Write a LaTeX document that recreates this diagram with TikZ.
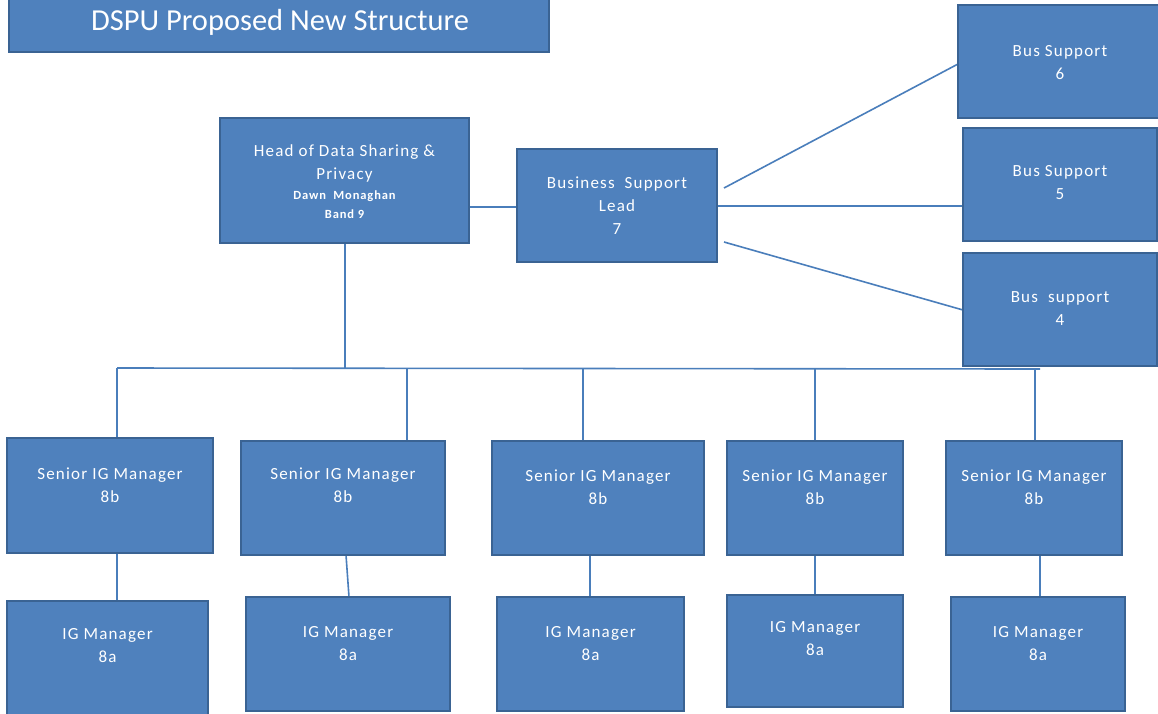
\documentclass[tikz,border=0pt]{standalone}
\usepackage{fontspec}
\setmainfont{Carlito}
\newfontfamily\boxfont[LetterSpace=7]{Carlito}
\definecolor{boxfill}{HTML}{4F81BD}
\definecolor{boxedge}{HTML}{3A6393}
\definecolor{wire}{HTML}{4A7EBB}
\tikzset{
  orgbox/.style={draw=boxedge, fill=boxfill, line width=1.4pt},
  boxtext/.style={text=white, inner sep=0pt, align=center, anchor=north,
    font=\boxfont\fontsize{17}{23}\selectfont},
  wireline/.style={draw=wire, line width=1.6pt},
}
% \orgunit{name}{left}{top}{right}{bottom}{first-line offset}{text}
\newcommand\orgunit[7]{%
  \path[orgbox] (#2,#3) rectangle (#4,#5);
  \coordinate (#1-nw) at (#2,#3);
  \coordinate (#1-se) at (#4,#5);
  \coordinate (#1) at ({(#2+#4)/2},{(#3+#5)/2});
  \node[boxtext] (#1-t) at ({(#2+#4)/2},{#3+#6-5}) {#7};
}
\begin{document}
\begin{tikzpicture}[x=1pt,y=-1pt]
\useasboundingbox (0,0) rectangle (1158,713);
\clip (0,0) rectangle (1158,713);
\fill[white] (0,0) rectangle (1158,713);

% title banner
\path[orgbox] (9,-5) rectangle (549,52);
\node[text=white, inner sep=0pt, font=\fontsize{30.5}{33}\selectfont] (title) at (280,22) {DSPU Proposed New Structure};

% connectors (drawn first so boxes sit on top)
\coordinate (hbL) at (117,368);
\coordinate (hbR) at (1040,369);
\draw[wireline] (469,207) -- (517,207);
\draw[wireline] (724,188) -- (958,64);
\draw[wireline] (717,206) -- (963,206);
\draw[wireline] (724,242) -- (963,310);
\draw[wireline] (345,243) -- (345,368);
\draw[wireline] (hbL) -- (hbR);
\draw[wireline] (117,368) -- (117,438);
\draw[wireline] (407,368) -- (407,441);
\draw[wireline] (583,368) -- (583,441);
\draw[wireline] (815,368) -- (815,441);
\draw[wireline] (1035,369) -- (1035,441);
\draw[wireline] (117,553) -- (117,601);
\draw[wireline] (346,555) -- (349,597);
\draw[wireline] (590,555) -- (590,597);
\draw[wireline] (815,555) -- (815,595);
\draw[wireline] (1040,555) -- (1040,597);

% head and business support
\orgunit{head}{220}{118}{469}{243}{31}{Head of Data Sharing \&\\Privacy\\[-3pt]
  {\fontsize{12.5}{19}\selectfont\bfseries Dawn\ \ Monaghan}\\[-4pt]
  {\fontsize{12.5}{19}\selectfont\bfseries Band 9}}
\orgunit{bsl}{517}{149}{717}{262}{33}{Business\ \ Support\\Lead\\7}
\orgunit{bs6}{958}{5}{1162}{118}{45}{Bus Support\\6}
\orgunit{bs5}{963}{128}{1157}{241}{42}{Bus\ Support\\5}
\orgunit{bs4}{963}{253}{1157}{366}{43}{Bus\ \ support\\4}

% senior IG managers
\orgunit{s1}{7}{438}{213}{553}{35}{Senior IG Manager\\8b}
\orgunit{s2}{241}{441}{445}{555}{32}{Senior IG Manager\\8b}
\orgunit{s3}{492}{441}{704}{555}{34}{Senior IG Manager\\8b}
\orgunit{s4}{727}{441}{903}{555}{34}{Senior IG Manager\\8b}
\orgunit{s5}{946}{441}{1122}{555}{34}{Senior IG Manager\\8b}

% IG managers
\orgunit{m1}{7}{601}{208}{720}{32}{IG Manager\\8a}
\orgunit{m2}{246}{597}{450}{711}{34}{IG Manager\\8a}
\orgunit{m3}{497}{597}{684}{711}{34}{IG Manager\\8a}
\orgunit{m4}{727}{595}{903}{707}{31}{IG Manager\\8a}
\orgunit{m5}{951}{597}{1125}{711}{34}{IG Manager\\8a}
\end{tikzpicture}
\end{document}
